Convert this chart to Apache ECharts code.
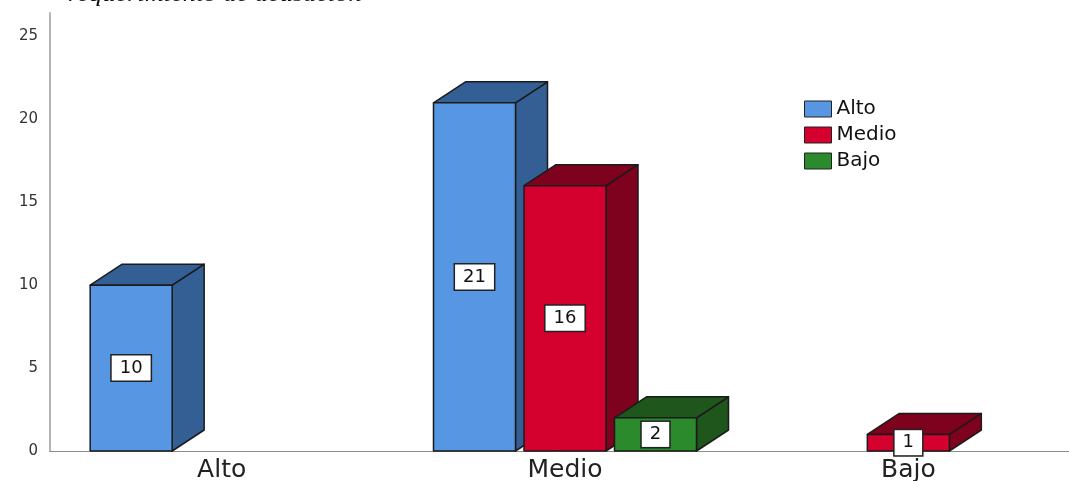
<!DOCTYPE html>
<html>
<head>
<meta charset="utf-8">
<script src="https://cdn.jsdelivr.net/npm/echarts@6/dist/echarts.min.js"></script>
<style>
  html, body { margin: 0; padding: 0; background: #fff; }
  #chart { width: 1069px; height: 481px; }
</style>
</head>
<body>
<div id="chart"></div>
<script>
// categories on the x axis and the three series (counts)
const categories = ['Alto', 'Medio', 'Bajo'];
const seriesNames = ['Alto', 'Medio', 'Bajo'];
const altoValues = [10, 21, 0];
const medioValues = [0, 16, 1];
const bajoValues = [0, 2, 0];
const yTicks = [0, 5, 10, 15, 20, 25];

const allValues = [altoValues, medioValues, bajoValues];
const frontColors = ['#5796e2', '#d4012f', '#2b8a2b'];
const darkColors = ['#345f95', '#7e011d', '#1e561b'];

const barW = 82;      // front face width
const slot = 90.5;    // distance between bars in a cluster
const dx = 32, dy = 21; // depth of the 3D box
const edge = '#1b1b1b';

function render3d(params, api) {
  const s = params.seriesIndex;
  const cat = api.value(0);
  const val = api.value(1);
  if (!val) return null;
  const base = api.coord([cat, 0]);
  const top = api.coord([cat, val]);
  const cx = base[0] + (s - 1) * slot;
  const x0 = cx - barW / 2, x1 = cx + barW / 2;
  const yb = base[1], yt = top[1];
  const line = { stroke: edge, lineWidth: 1.5, lineJoin: 'round' };
  return {
    type: 'group',
    children: [
      { type: 'polygon', shape: { points: [[x1, yt], [x1 + dx, yt - dy], [x1 + dx, yb - dy], [x1, yb]] },
        style: Object.assign({ fill: darkColors[s] }, line) },
      { type: 'polygon', shape: { points: [[x0, yt], [x0 + dx, yt - dy], [x1 + dx, yt - dy], [x1, yt]] },
        style: Object.assign({ fill: darkColors[s] }, line) },
      { type: 'rect', shape: { x: x0, y: yt, width: barW, height: yb - yt },
        style: Object.assign({ fill: frontColors[s] }, line) },
      { type: 'text', x: cx, y: (yt + yb) / 2,
        style: { text: String(val), fill: '#111', font: '18px "DejaVu Sans"',
          align: 'center', verticalAlign: 'middle',
          backgroundColor: '#fff', borderColor: '#222', borderWidth: 1.5, padding: [4, 8, 3, 8] } }
    ]
  };
}

const chart = echarts.init(document.getElementById('chart'));
chart.setOption({
  animation: false,
  backgroundColor: '#fff',
  textStyle: { fontFamily: 'DejaVu Sans' },
  grid: { left: 50, right: -11, top: 13, bottom: 30, outerBoundsMode: 'none', containLabel: false },
  graphic: [{
    type: 'text', x: 68, y: 6, scaleX: 1.2,
    style: { text: 'requerimiento de acusación', font: 'italic 22px "Liberation Serif"',
      fill: '#111', verticalAlign: 'bottom' }
  }],
  legend: {
    orient: 'vertical', left: 799, top: 94,
    icon: 'rect', itemWidth: 27, itemHeight: 16, itemGap: 6,
    data: seriesNames,
    itemStyle: { borderColor: '#222', borderWidth: 1 },
    textStyle: { fontSize: 20, color: '#111', fontFamily: 'DejaVu Sans' }
  },
  xAxis: {
    type: 'category', data: categories,
    axisLine: { lineStyle: { color: '#8c8c8c', width: 1 } },
    axisTick: { show: false },
    axisLabel: { fontSize: 25, color: '#222', margin: 7 }
  },
  yAxis: {
    type: 'value', min: 0, max: 26.42, interval: 5,
    splitLine: { show: false },
    axisLine: { show: true, lineStyle: { color: '#b4b4b4', width: 2 } },
    axisTick: { show: false },
    axisLabel: {
      fontSize: 15, color: '#333', margin: 12,
      formatter: v => (yTicks.indexOf(v) >= 0 ? String(v) : '')
    }
  },
  series: seriesNames.map((name, i) => ({
    name: name,
    type: 'custom',
    clip: false,
    itemStyle: { color: frontColors[i] },
    encode: { x: 0, y: 1 },
    data: categories.map((c, k) => [k, allValues[i][k]]),
    renderItem: render3d
  }))
});
</script>
</body>
</html>
